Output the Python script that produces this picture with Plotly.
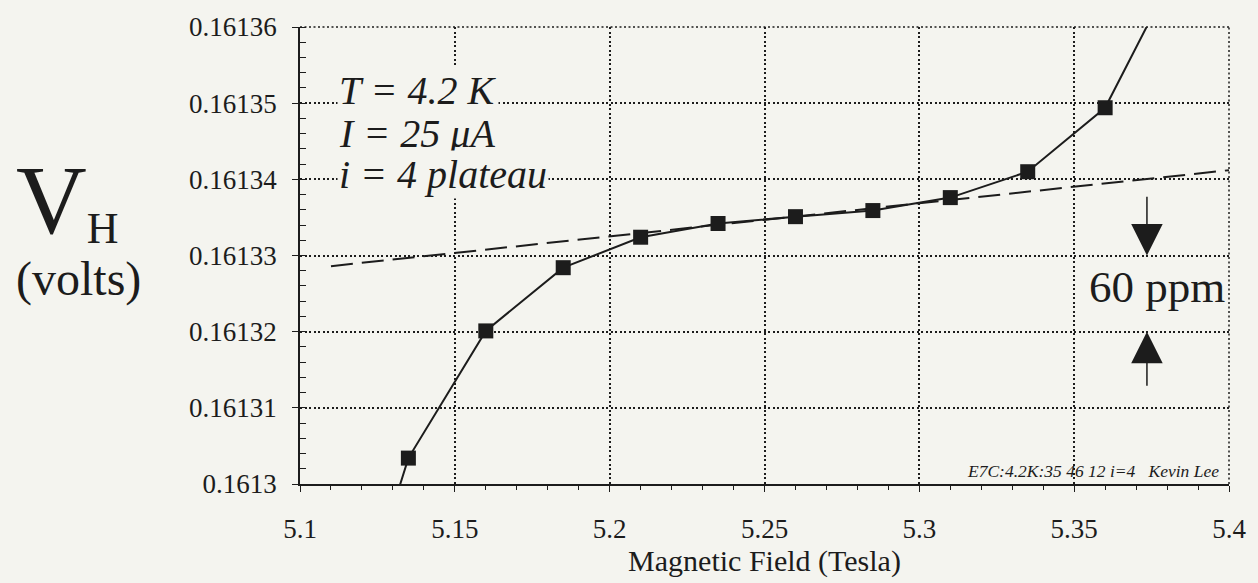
import plotly.graph_objects as go

# ---- data ----
field_T = [5.11, 5.135, 5.16, 5.185, 5.21, 5.235, 5.26, 5.285, 5.31, 5.335, 5.36, 5.385]
hall_V = [0.1612709, 0.1613034, 0.1613201, 0.1613284, 0.1613324, 0.1613342,
          0.1613351, 0.1613359, 0.1613376, 0.1613410, 0.1613494, 0.1613692]
fit_T = [5.11, 5.4]
fit_V = [0.1613286, 0.1613412]

x_tick_vals = [5.1, 5.15, 5.2, 5.25, 5.3, 5.35, 5.4]
x_tick_text = ["5.1", "5.15", "5.2", "5.25", "5.3", "5.35", "5.4"]
y_tick_vals = [0.1613, 0.16131, 0.16132, 0.16133, 0.16134, 0.16135, 0.16136]
y_tick_text = ["0.1613", "0.16131", "0.16132", "0.16133", "0.16134", "0.16135", "0.16136"]

ppm_hi = 0.16133
ppm_lo = 0.16132

# ---- styling / layout ----
W, H = 1258, 583
ML, MR, MT, MB = 300, 21, 23, 94
BG = "#f4f4ef"
INK = "#1c1c1c"
SERIF = "Liberation Serif, Times New Roman, serif"
GRID_DASH = "2px,2.5px"

plot_w = W - ML - MR
plot_h = H - MT - MB


def px(xp):
    return (xp - ML) / plot_w


def py(yp):
    return (H - MB - yp) / plot_h


fig = go.Figure()

fig.add_trace(go.Scatter(
    x=fit_T, y=fit_V, mode="lines",
    line=dict(color=INK, width=2, dash="22px,9px"),
    showlegend=False, hoverinfo="skip",
))
fig.add_trace(go.Scatter(
    x=field_T, y=hall_V, mode="lines+markers",
    line=dict(color=INK, width=2),
    marker=dict(symbol="square", size=15, color=INK),
    showlegend=False,
))

annotations = []


def txt(text, xp, yp, size, xanchor="left", bg=None, italic=False, align="left"):
    if italic:
        text = "<i>" + text + "</i>"
    d = dict(text=text, x=px(xp), y=py(yp), xref="paper", yref="paper",
             xanchor=xanchor, yanchor="middle", showarrow=False, align=align,
             font=dict(family=SERIF, size=size, color=INK), borderpad=1)
    if bg:
        d["bgcolor"] = bg
    annotations.append(d)


# y-axis title: V_H over (volts)
txt("<span style='font-size:98px'>V</span><sub><span style='font-size:44px'>H</span></sub>"
    "<br>(volts)", 12, 226, 48)

# condition labels
txt("T = 4.2 K", 337, 87.5, 40, bg=BG, italic=True)
txt("I = 25 \u03bcA", 337, 131.5, 40, bg=BG, italic=True)
txt("i = 4 plateau", 337, 173.5, 40, bg=BG, italic=True)

txt("60 ppm", 1164, 288, 45, xanchor="center")
txt("E7C:4.2K:35 46 12 i=4\u00a0\u00a0\u00a0Kevin\u00a0Lee", 1229, 476, 17.5,
    xanchor="right", italic=True)

# 60 ppm arrows
arrow_x = 5.3735
for tip, tail in [(ppm_hi, 0.1613379), (ppm_lo, 0.1613127)]:
    annotations.append(dict(
        x=arrow_x, y=tip, ax=arrow_x, ay=tail, xref="x", yref="y",
        axref="x", ayref="y", text="", showarrow=True,
        arrowhead=2, arrowsize=4.2, arrowwidth=1.5, arrowcolor=INK,
        standoff=0, startstandoff=0,
    ))

# dotted frame lines on the top and right edges (grid at the range ends)
shapes = [
    dict(type="line", xref="paper", yref="paper", x0=0, x1=1, y0=1, y1=1,
         line=dict(color=INK, width=1.5, dash=GRID_DASH), layer="below"),
    dict(type="line", xref="paper", yref="paper", x0=1, x1=1, y0=0, y1=1,
         line=dict(color=INK, width=1.5, dash=GRID_DASH), layer="below"),
]

fig.update_layout(
    width=W, height=H,
    margin=dict(l=ML, r=MR, t=MT, b=MB),
    paper_bgcolor=BG, plot_bgcolor=BG,
    font=dict(family=SERIF, color=INK),
    annotations=annotations,
    shapes=shapes,
    showlegend=False,
)

fig.update_xaxes(
    range=[5.1, 5.4], tickvals=x_tick_vals, ticktext=x_tick_text,
    showline=True, linecolor=INK, linewidth=1.5,
    ticks="outside", ticklen=6, tickwidth=1.2, tickcolor=INK,
    tickfont=dict(family=SERIF, size=27, color=INK), ticklabelstandoff=14,
    showgrid=True, gridcolor=INK, gridwidth=1.5, griddash=GRID_DASH,
    minor=dict(dtick=0.01, tick0=5.1, ticks="outside", ticklen=4, tickwidth=1, tickcolor=INK, showgrid=False),
    zeroline=False,
    title=dict(text="Magnetic Field (Tesla)", font=dict(family=SERIF, size=30, color=INK), standoff=6),
)
fig.update_yaxes(
    range=[0.1613, 0.16136], tickvals=y_tick_vals, ticktext=y_tick_text,
    showline=True, linecolor=INK, linewidth=1.5,
    ticks="outside", ticklen=6, tickwidth=1.2, tickcolor=INK,
    tickfont=dict(family=SERIF, size=27, color=INK), ticklabelstandoff=10,
    showgrid=True, gridcolor=INK, gridwidth=1.5, griddash=GRID_DASH,
    minor=dict(dtick=0.000002, tick0=0.1613, ticks="inside", ticklen=6, tickwidth=1, tickcolor=INK, showgrid=False),
    zeroline=False,
)

fig.write_html("out.html")
